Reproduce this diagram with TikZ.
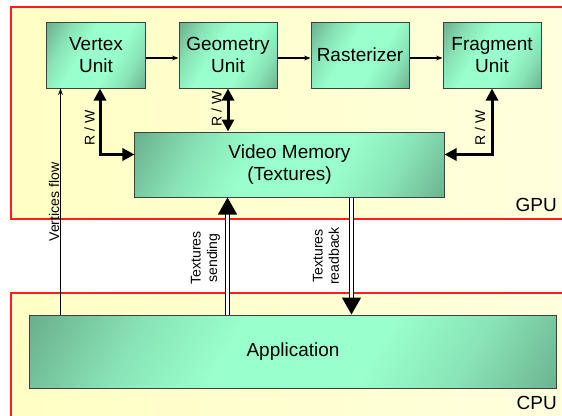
\documentclass[tikz,border=0pt]{standalone}
\usepackage{fontspec}
\setmainfont{Liberation Sans}
\usetikzlibrary{arrows.meta,positioning,calc}
\definecolor{mint}{RGB}{153,255,204}
\definecolor{mintdark}{RGB}{72,118,96}
\definecolor{zonered}{RGB}{255,30,30}
\definecolor{zoneyellow}{RGB}{255,255,196}
\definecolor{zonepale}{RGB}{255,255,222}

% light in the middle, dark at both ends
\pgfdeclarehorizontalshading{mintshade}{100bp}{color(0bp)=(mintdark); color(30bp)=(mint!80!mintdark);
  color(42bp)=(mint); color(60bp)=(mint); color(72bp)=(mint!80!mintdark); color(100bp)=(mintdark)}

\begin{document}
\begin{tikzpicture}[%
    x=0.25mm, y=-0.25mm,        % one unit is one pixel of the sketch
    node distance=6mm and 8.25mm,
    ]

\tikzset{
  unit/.style={draw=black!75, line width=0.25mm, align=center, inner sep=0pt,
    minimum width=24.5mm, minimum height=16.5mm, font=\fontsize{13.5}{16}\selectfont,
    shading=mintshade, shading angle=-30},
  zone/.style={draw=zonered, line width=0.3mm, left color=zoneyellow, right color=zonepale},
  zonetag/.style={inner sep=0pt, font=\fontsize{13.5}{16}\selectfont},
  lbl/.style={rotate=90, align=center, inner sep=0pt, font=\fontsize{10}{11.7}\selectfont},
  % -------------------------------------------------
  % connector styles
  flow/.style={-{Stealth[length=1.6mm,width=1.2mm]}, line width=0.35mm},
  rw/.style={{Triangle[length=3mm,width=3mm]}-{Triangle[length=3mm,width=3mm]}, line width=0.75mm},
  bus/.style={-{Triangle[length=4.25mm,width=4.75mm]}, line width=0.35mm, double=white, double distance=0.6mm}
}

  \clip (0,0) rectangle (562,415);
  \useasboundingbox (0,0) rectangle (562,415);

  % GPU and CPU areas
  \path[zone] (11,7) rectangle (580,219);
  \path[zone] (11,293) rectangle (580,430);
  \node[zonetag, anchor=base east] (gpu) at (557,211) {GPU};
  \node[zonetag, anchor=base east] (cpu) at (557,409) {CPU};

  \begin{scope}
    \node[unit] (vertex) at (96,55) {Vertex\\Unit};
    \node[unit, right=of vertex] (geometry) {Geometry\\Unit};
    \node[unit, right=of geometry] (raster) {Rasterizer};
    \node[unit, right=of raster] (fragment) {Fragment\\Unit};

    \node[unit, minimum width=77.25mm, minimum height=16.25mm] (vidmem) at (289.5,164.5) {Video Memory\\(Textures)};
    \node[unit, minimum width=131.5mm, minimum height=18.25mm] (app) at (293,351.5) {Application};

    % pipeline
    \draw[flow] ([yshift=-0.75mm]vertex.east) -- ([yshift=-0.75mm]geometry.west);
    \draw[flow] ([yshift=-0.75mm]geometry.east) -- ([yshift=-0.75mm]raster.west);
    \draw[flow] ([yshift=-0.75mm]raster.east) -- ([yshift=-0.75mm]fragment.west);

    \coordinate (vflow) at ([xshift=3.5mm]vertex.south west);
    \draw[flow] (vflow |- app.north) -- (vflow);
    \node[lbl] (vflow_lbl) at (54,202) {Vertices flow};

    % memory access
    \draw[rw] ([xshift=1mm]vertex.south) |- ([yshift=2.5mm]vidmem.west);
    \node[lbl] (rw_vertex) at (89.5,127.5) {R / W};
    \draw[rw] (geometry.south) -- (geometry.south |- vidmem.north);
    \node[lbl] (rw_geometry) at (216.5,109) {R / W};
    \draw[rw] (fragment.south) |- ([yshift=2.5mm]vidmem.east);
    \node[lbl] (rw_fragment) at (480,127.5) {R / W};

    % transfers between CPU and GPU
    \coordinate (send) at ([xshift=23.25mm]vidmem.south west);
    \coordinate (readback) at ([xshift=54.25mm]vidmem.south west);
    \draw[bus] (send |- app.north) -- (send);
    \node[lbl] (send_lbl) at (205.5,258) {Textures\\sending};
    \draw[bus] (readback) -- (readback |- app.north);
    \node[lbl] (readback_lbl) at (326,256) {Textures\\readback};
  \end{scope}
\end{tikzpicture}
\end{document}
